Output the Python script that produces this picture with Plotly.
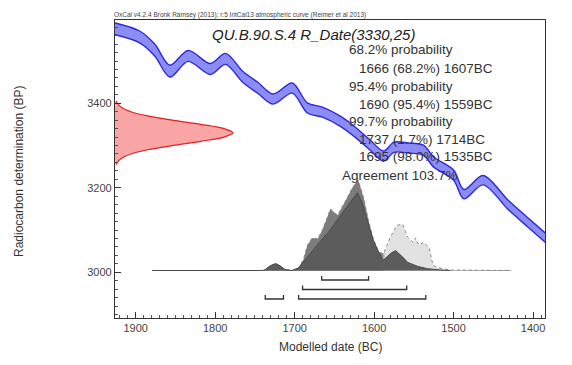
import plotly.graph_objects as go

# ---------------- data ----------------
# IntCal13 calibration curve: calendar BC, radiocarbon BP, 1-sigma
cal_bc = [1926, 1895, 1876, 1857, 1834, 1806, 1787, 1765, 1746, 1727, 1703, 1684,
          1665, 1643, 1624, 1605, 1588, 1575, 1557, 1538, 1525, 1500, 1487, 1463,
          1432, 1407, 1384]
cal_bp = [3576, 3557, 3526, 3476, 3512, 3481, 3505, 3462, 3436, 3410, 3436, 3389,
          3379, 3358, 3332, 3301, 3275, 3296, 3294, 3289, 3261, 3230, 3185, 3218,
          3161, 3119, 3081]
cal_err = [14, 14, 14, 14, 13, 13, 13, 13, 13, 12, 12, 12,
           12, 12, 12, 12, 12, 12, 12, 12, 12, 12, 11, 11,
           11, 11, 11]

# Radiocarbon measurement R_Date(3330,25): BP and relative probability
rdate_bp = [3255, 3260, 3270, 3280, 3290, 3300, 3310, 3320, 3330, 3340, 3350, 3360,
            3370, 3380, 3390, 3400, 3405]
rdate_p = [0.012, 0.02, 0.056, 0.135, 0.278, 0.487, 0.726, 0.923, 1.0, 0.923, 0.726,
           0.487, 0.278, 0.135, 0.056, 0.02, 0.012]

# Unmodelled likelihood (calendar BC, relative probability)
lik_bc = [1879, 1740, 1737, 1731, 1724, 1718, 1712, 1703, 1695, 1689, 1684, 1678,
          1671, 1665, 1655, 1646, 1636, 1627, 1620, 1613, 1607, 1601, 1594, 1588,
          1579, 1571, 1564, 1558, 1551, 1548, 1544, 1538, 1531, 1526, 1520, 1504, 1428]
lik_p = [0, 0, 0.01, 0.05, 0.077, 0.05, 0.01, 0, 0.03, 0.12, 0.28, 0.36,
         0.35, 0.45, 0.68, 0.61, 0.77, 0.92, 1.0, 0.8, 0.55, 0.35, 0.2, 0.19,
         0.38, 0.5, 0.51, 0.37, 0.31, 0.36, 0.28, 0.31, 0.26, 0.06, 0.03, 0.005, 0]

# Modelled posterior (calendar BC, relative probability)
post_bc = [1879, 1740, 1737, 1731, 1724, 1718, 1712, 1703, 1695, 1689, 1680, 1668,
           1655, 1643, 1630, 1621, 1615, 1607, 1601, 1594, 1589, 1579, 1573, 1563,
           1558, 1545, 1533, 1516, 1504]
post_p = [0, 0, 0.01, 0.05, 0.077, 0.05, 0.01, 0, 0.03, 0.09, 0.19, 0.32,
          0.45, 0.60, 0.75, 0.86, 0.75, 0.52, 0.33, 0.2, 0.11, 0.19, 0.22, 0.14,
          0.09, 0.045, 0.02, 0.005, 0]

# Highest posterior density ranges (from, to BC)
hpd_68 = [(1666, 1607)]
hpd_95 = [(1690, 1559)]
hpd_99 = [(1737, 1714), (1695, 1535)]

prob_lines = ["68.2% probability",
              "  1666 (68.2%) 1607BC",
              "95.4% probability",
              "  1690 (95.4%) 1559BC",
              "99.7% probability",
              "  1737 (1.7%) 1714BC",
              "  1695 (98.0%) 1535BC",
              "Agreement 103.7%"]
title_text = "QU.B.90.S.4 R_Date(3330,25)"
header_text = "OxCal v4.2.4 Bronk Ramsey (2013); r:5 IntCal13 atmospheric curve (Reimer et al 2013)"

x_ticks = [1900, 1800, 1700, 1600, 1500, 1400]
y_ticks = [3000, 3200, 3400]

# ---------------- figure ----------------
W, H = 572, 365
OFF = 8  # page body margin
# plot frame in page pixels: left 115, right 545, top 20, bottom 318
L, T = 115 - OFF, 20 - OFF
R = W - (545 - OFF)
B = H - (318 - OFF)
FONT = "Liberation Sans, Arial, sans-serif"

fig = go.Figure()

# calibration curve band
upper = [b + e for b, e in zip(cal_bp, cal_err)]
lower = [b - e for b, e in zip(cal_bp, cal_err)]
fig.add_trace(go.Scatter(x=cal_bc, y=upper, mode="lines",
                         line=dict(color="#2a2ad8", width=1.4, shape="spline", smoothing=0.9),
                         hoverinfo="skip", showlegend=False))
fig.add_trace(go.Scatter(x=cal_bc, y=lower, mode="lines", fill="tonexty",
                         fillcolor="rgba(120,120,245,0.85)",
                         line=dict(color="#2a2ad8", width=1.4, shape="spline", smoothing=0.9),
                         hoverinfo="skip", showlegend=False))

# radiocarbon measurement on y axis
fig.add_trace(go.Scatter(x=rdate_p, y=rdate_bp, xaxis="x2", yaxis="y", mode="lines",
                         fill="tozerox", fillcolor="rgba(250,165,165,1)",
                         line=dict(color="#e02020", width=1.2, shape="spline"),
                         hoverinfo="skip", showlegend=False))

# baseline
fig.add_trace(go.Scatter(x=[lik_bc[0], lik_bc[-1]], y=[0, 0], xaxis="x", yaxis="y2",
                         mode="lines", line=dict(color="#9a9a9a", width=1),
                         hoverinfo="skip", showlegend=False))

# likelihood
fig.add_trace(go.Scatter(x=lik_bc, y=lik_p, xaxis="x", yaxis="y2", mode="lines",
                         fill="tozeroy",
                         fillgradient=dict(type="horizontal",
                                           colorscale=[[0, "#7c7c7c"], [1, "#e2e2e2"]],
                                           start=1590, stop=1586),
                         line=dict(color="#8a8a8a", width=1, dash="dot"),
                         hoverinfo="skip", showlegend=False))

# posterior
fig.add_trace(go.Scatter(x=post_bc, y=post_p, xaxis="x", yaxis="y2", mode="lines",
                         fill="tozeroy", fillcolor="#5c5c5c",
                         line=dict(color="#4a4a4a", width=1),
                         hoverinfo="skip", showlegend=False))

# HPD range brackets
levels = [(hpd_68, -0.105), (hpd_95, -0.21), (hpd_99, -0.315)]
for ranges, lev in levels:
    for a, b in ranges:
        fig.add_trace(go.Scatter(x=[a, a, b, b], y=[lev + 0.045, lev, lev, lev + 0.045],
                                 xaxis="x", yaxis="y2", mode="lines",
                                 line=dict(color="#333333", width=1.3),
                                 hoverinfo="skip", showlegend=False))

axis_common = dict(showline=True, linecolor="#333333", linewidth=1.3, mirror=True,
                   ticks="inside", ticklen=6, tickcolor="#333333", showgrid=False,
                   zeroline=False, tickfont=dict(family=FONT, size=11, color="#444444"))

fig.update_layout(
    width=W, height=H,
    margin=dict(l=L, r=R, t=T, b=B),
    paper_bgcolor="white", plot_bgcolor="white",
    showlegend=False,
    xaxis=dict(range=[1926, 1385], tickvals=x_ticks,
               minor=dict(dtick=10, ticks="inside", ticklen=3, tickcolor="#555555"),
               **axis_common),
    yaxis=dict(range=[2892, 3597], tickvals=y_ticks,
               minor=dict(dtick=20, ticks="inside", ticklen=3, tickcolor="#555555"),
               **axis_common),
    xaxis2=dict(overlaying="x", anchor="y", range=[0, 3.64], visible=False),
    yaxis2=dict(overlaying="y", anchor="x", range=[-0.525, 2.768], visible=False),
)

def px_to_paper(px, py):
    # px, py are page pixels of the reference picture
    fx, fy = px - OFF, py - OFF
    return (fx - L) / (W - L - R), (H - B - fy) / (H - T - B)

annots = []
hx, hy = px_to_paper(112, 15)
annots.append(dict(x=hx, y=hy, xref="paper", yref="paper", text=header_text,
                   showarrow=False, xanchor="left", yanchor="middle",
                   font=dict(family=FONT, size=6.5, color="#444444")))
tx, ty = px_to_paper(313, 34)
annots.append(dict(x=tx, y=ty, xref="paper", yref="paper", text="<i>" + title_text + "</i>",
                   showarrow=False, xanchor="center", yanchor="middle",
                   font=dict(family=FONT, size=15, color="#222222")))
line_ys = [50, 68, 87, 104, 121, 139, 157, 175]
for txt, yy in zip(prob_lines, line_ys):
    indent = txt.startswith("  ")
    xpx = 357 if indent else (340 if txt.startswith("Agreement") else 347)
    ax_, ay_ = px_to_paper(xpx, yy)
    annots.append(dict(x=ax_, y=ay_, xref="paper", yref="paper", text=txt.strip(),
                       showarrow=False, xanchor="left", yanchor="middle",
                       font=dict(family=FONT, size=13.5, color="#333333")))
xt, yt = px_to_paper(330, 347)
annots.append(dict(x=xt, y=yt, xref="paper", yref="paper", text="Modelled date (BC)",
                   showarrow=False, xanchor="center", yanchor="middle",
                   font=dict(family=FONT, size=12, color="#333333")))
xt, yt = px_to_paper(19, 172)
annots.append(dict(x=xt, y=yt, xref="paper", yref="paper", text="Radiocarbon determination (BP)",
                   showarrow=False, xanchor="center", yanchor="middle", textangle=-90,
                   font=dict(family=FONT, size=12, color="#333333")))
fig.update_layout(annotations=annots)

fig.write_html("out.html")
